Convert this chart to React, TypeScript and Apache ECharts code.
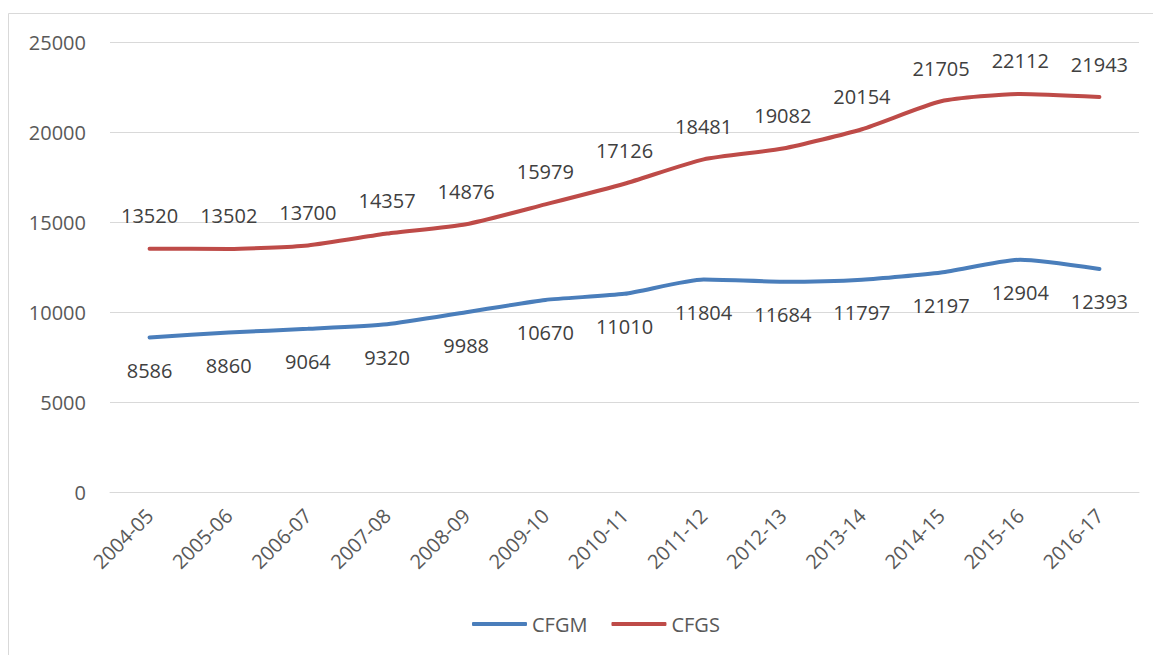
import React, { useEffect, useRef } from "react";
import * as echarts from "echarts";

const categories = ["2004-05", "2005-06", "2006-07", "2007-08", "2008-09", "2009-10", "2010-11", "2011-12", "2012-13", "2013-14", "2014-15", "2015-16", "2016-17"];
const cfgm = [8586, 8860, 9064, 9320, 9988, 10670, 11010, 11804, 11684, 11797, 12197, 12904, 12393];
const cfgs = [13520, 13502, 13700, 14357, 14876, 15979, 17126, 18481, 19082, 20154, 21705, 22112, 21943];

const FONT = "'Open Sans', 'Noto Sans', sans-serif";
const FS = 20;

export default function App() {
  const ref = useRef<HTMLDivElement>(null);
  useEffect(() => {
    if (!ref.current) return;
    const chart = echarts.init(ref.current, null, { renderer: "svg" });
    chart.setOption({
      animation: false,
      backgroundColor: "#ffffff",
      textStyle: { fontFamily: FONT },
      graphic: [
        {
          type: "rect",
          shape: { x: 8.5, y: 13.5, width: 1300, height: 800 },
          style: { fill: "none", stroke: "#d9d9d9", lineWidth: 1 },
          silent: true,
        },
      ],
      grid: { left: 110, right: 14, top: 42, bottom: 163 },
      legend: {
        bottom: 16,
        left: 467,
        itemWidth: 55,
        itemHeight: 4,
        itemGap: 24,
        textStyle: { fontSize: FS, color: "#595959", fontFamily: FONT },
        data: [
          { name: "CFGM", icon: "roundRect" },
          { name: "CFGS", icon: "roundRect" },
        ],
      },
      xAxis: {
        type: "category",
        data: categories,
        boundaryGap: true,
        axisLine: { show: true, lineStyle: { color: "#d9d9d9", width: 1 } },
        axisTick: { show: false },
        axisLabel: { rotate: 45, fontSize: FS, color: "#595959", margin: 20, fontFamily: FONT, interval: 0 },
      },
      yAxis: {
        type: "value",
        min: 0,
        max: 25000,
        interval: 5000,
        axisLine: { show: false },
        axisTick: { show: false },
        axisLabel: { fontSize: FS, color: "#595959", margin: 24, fontFamily: FONT, formatter: (v: number) => String(v) },
        splitLine: { lineStyle: { color: "#d9d9d9", width: 1 } },
      },
      series: [
        {
          name: "CFGM",
          type: "line",
          data: cfgm,
          smooth: 0.2,
          symbol: "circle",
          symbolSize: 2,
          showSymbol: true,
          color: "#4a7ebb",
          itemStyle: { color: "#4a7ebb" },
          lineStyle: { width: 4, color: "#4a7ebb", cap: "round" },
          label: { show: true, position: "bottom", distance: 22, fontSize: FS, color: "#404040", fontFamily: FONT, formatter: (p: any) => String(p.value) },
          labelLayout: { hideOverlap: false },
        },
        {
          name: "CFGS",
          type: "line",
          data: cfgs,
          smooth: 0.2,
          symbol: "circle",
          symbolSize: 2,
          showSymbol: true,
          color: "#be4b48",
          itemStyle: { color: "#be4b48" },
          lineStyle: { width: 4, color: "#be4b48", cap: "round" },
          label: { show: true, position: "top", distance: 22, fontSize: FS, color: "#404040", fontFamily: FONT, formatter: (p: any) => String(p.value) },
          labelLayout: { hideOverlap: false },
        },
      ],
    });
    return () => chart.dispose();
  }, []);
  return <div ref={ref} style={{ position: "fixed", left: 0, top: 0, width: 1153, height: 655 }} />;
}
